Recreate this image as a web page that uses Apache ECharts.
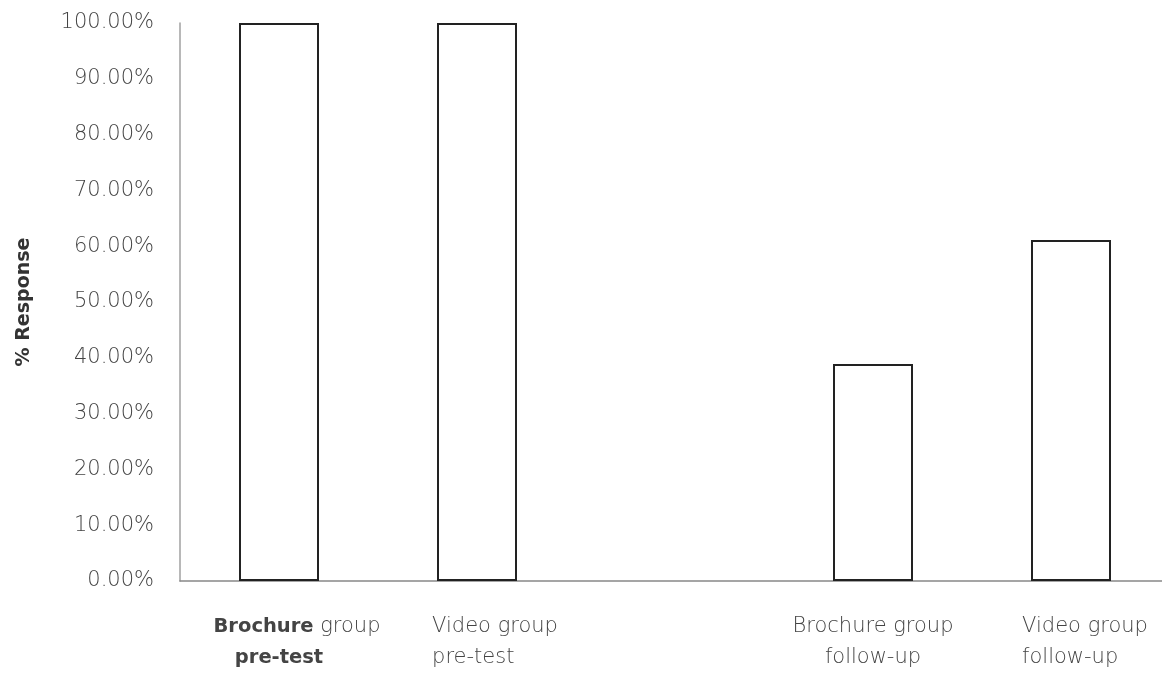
<!DOCTYPE html>
<html>
<head>
<meta charset="utf-8">
<script src="https://cdn.jsdelivr.net/npm/echarts@6/dist/echarts.min.js"></script>
<style>
html,body{margin:0;padding:0;background:#fff;}
#chart{width:1162px;height:674px;}
</style>
</head>
<body>
<div id="chart"></div>
<script>
const categories = ["Brochure group\npre-test", "Video group\npre-test", "", "Brochure group\nfollow-up", "Video group\nfollow-up"];
const responseValues = [100, 100, null, 38.9, 61.1];
const yTicks = { min: 0, max: 100, interval: 10 };
const yAxisTitle = "% Response";

const font = "DejaVu Sans";
const base = { fontFamily: font, fontSize: 21, color: '#444', lineHeight: 31, fontWeight: 300 };
const rich = {
  b1: Object.assign({}, base, { fontWeight: 'bold', fontSize: 19.5, color: '#444', padding: [0, 0, 0, 36] }),
  b: Object.assign({}, base, { fontWeight: 'bold', fontSize: 19.5, color: '#444' }),
  n: Object.assign({}, base),
  l36: Object.assign({}, base, { align: 'left', padding: [0, 0, 0, 36] }),
  l28: Object.assign({}, base, { align: 'left', padding: [0, 0, 0, 28] })
};
function fmtLabel(value, index) {
  if (!value) return '';
  const lines = value.split('\n');
  if (index === 0) {
    const w = lines[0].split(' ');
    return '{b1|' + w[0] + '}{n| ' + w.slice(1).join(' ') + '}\n{b|' + lines[1] + '}';
  }
  if (index === 1) return lines.map(s => '{l36|' + s + '}').join('\n');
  if (index === 4) return lines.map(s => '{l28|' + s + '}').join('\n');
  return lines.map(s => '{n|' + s + '}').join('\n');
}

const chart = echarts.init(document.getElementById('chart'));
chart.setOption({
  animation: false,
  backgroundColor: '#fff',
  grid: { left: 180, top: 23, width: 990, bottom: 93, containLabel: false, outerBoundsMode: 'none' },
  xAxis: {
    type: 'category',
    data: categories,
    axisLine: { show: true, lineStyle: { color: '#888', width: 1.5 } },
    axisTick: { show: false },
    axisLabel: {
      interval: 0, margin: 30, color: '#444', fontFamily: font, fontSize: 21, lineHeight: 31,
      formatter: fmtLabel, rich: rich
    },
    splitLine: { show: false }
  },
  yAxis: {
    type: 'value',
    min: yTicks.min, max: yTicks.max, interval: yTicks.interval,
    name: yAxisTitle,
    nameLocation: 'middle',
    nameGap: 146,
    nameTextStyle: { fontFamily: font, fontSize: 19, fontWeight: 'bold', color: '#333' },
    axisLine: { show: true, lineStyle: { color: '#a0a0a0', width: 1.5 } },
    axisTick: { show: false },
    splitLine: { show: false },
    axisLabel: {
      margin: 26, color: '#444', fontFamily: font, fontSize: 21, fontWeight: 300,
      formatter: function (v) { return v.toFixed(2) + '%'; }
    }
  },
  series: [{
    type: 'bar',
    data: responseValues,
    barWidth: 80,
    itemStyle: { color: '#fff', borderColor: '#222', borderWidth: 2 }
  }]
});
</script>
</body>
</html>
